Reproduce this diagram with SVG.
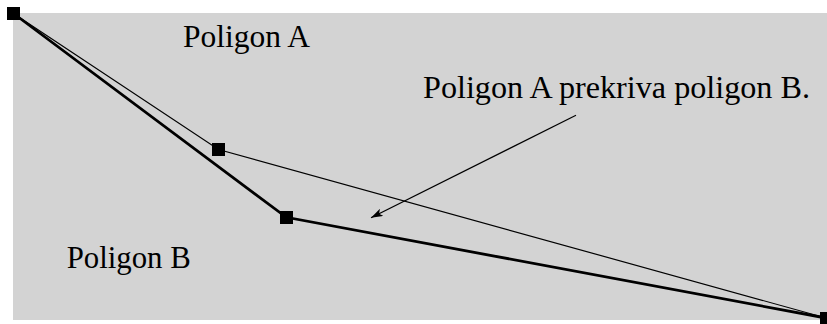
<svg xmlns="http://www.w3.org/2000/svg" width="827" height="324" viewBox="0 0 827 324">
  <style>
    .label { font-family: 'Liberation Serif', 'DejaVu Serif', 'Times New Roman', serif; font-size: 31px; fill: #000; }
    .thin { fill: none; stroke: #000; stroke-width: 1.2; }
    .thick { fill: none; stroke: #000; stroke-width: 2.8; stroke-linejoin: miter; }
    .vertex { fill: #000; }
  </style>
  <defs>
    <marker id="arrowhead" viewBox="0 0 12 8" refX="12" refY="4" markerWidth="12" markerHeight="8" markerUnits="userSpaceOnUse" orient="auto">
      <path d="M0,0 L12,4 L0,8 L3,4 Z" fill="#000"/>
    </marker>
  </defs>

  <!-- background -->
  <rect x="13" y="13" width="814" height="307" fill="#d3d3d3"/>

  <!-- polygon outlines and the pointer arrow -->
  <g id="edges">
    <polyline class="thin" points="13.5,13.5 218.5,149.5 826,318"/>
    <polyline class="thick" points="13.5,13.5 286.3,217.3 826,318"/>
    <line class="thin" x1="576" y1="115.3" x2="371" y2="217.7" marker-end="url(#arrowhead)"/>
  </g>

  <!-- vertex markers -->
  <g id="vertices">
    <rect class="vertex" x="7" y="7" width="13" height="13"/>
    <rect class="vertex" x="212" y="143" width="13" height="13"/>
    <rect class="vertex" x="280" y="211" width="13" height="13"/>
    <rect class="vertex" x="820" y="312" width="13" height="13"/>
  </g>

  <g id="labels">
    <text class="label" x="183" y="47.3" textLength="127" lengthAdjust="spacingAndGlyphs">Poligon A</text>
    <text class="label" x="423" y="98.3" textLength="387" lengthAdjust="spacingAndGlyphs">Poligon A prekriva poligon B.</text>
    <text class="label" x="66.7" y="268.3" textLength="124" lengthAdjust="spacingAndGlyphs">Poligon B</text>
  </g>
</svg>
